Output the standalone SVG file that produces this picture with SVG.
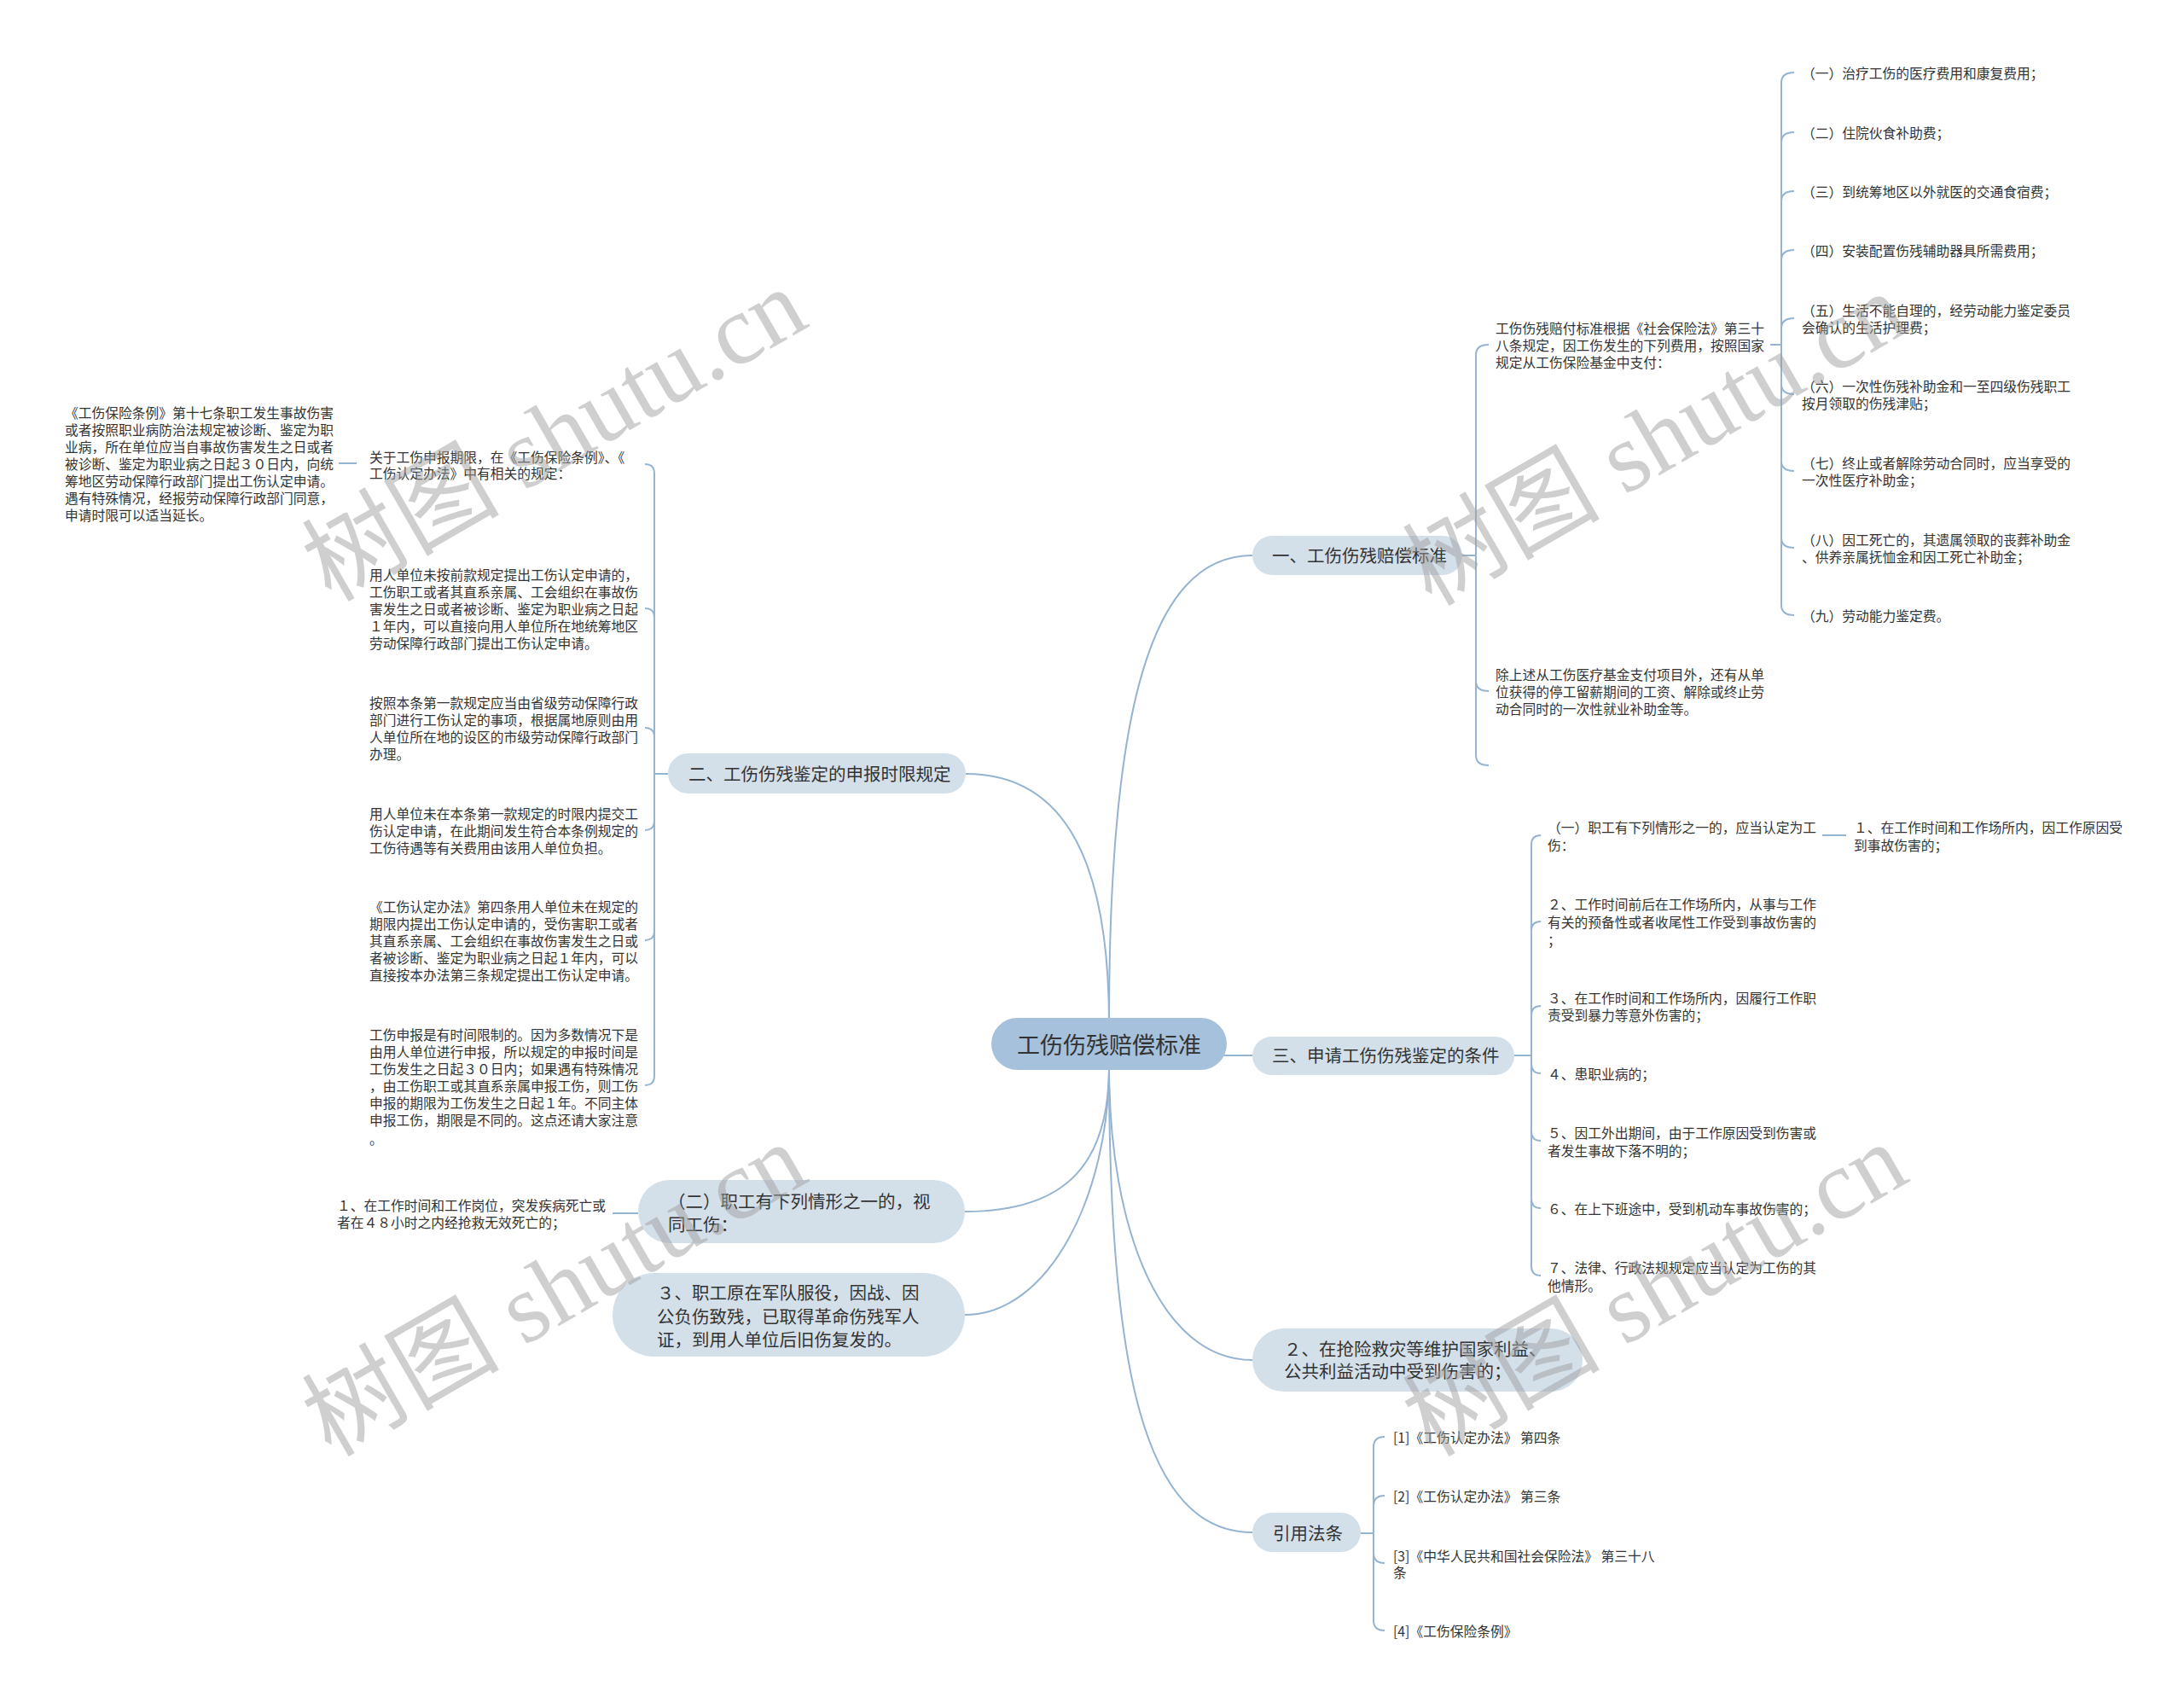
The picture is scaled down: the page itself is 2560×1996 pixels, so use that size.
<svg xmlns="http://www.w3.org/2000/svg" width="2560" height="1996" viewBox="0 0 2560 1996">
<style>
.c{fill:none;stroke:#95b4d1;stroke-width:2}
.rootbox{fill:#a6c1db}
.br{fill:#d3e0ea}
.t{font-family:"Noto Sans CJK SC","Microsoft YaHei",sans-serif;fill:#333;dominant-baseline:central}
.s{font-size:15.75px}
.m{font-size:20.5px}
.r{font-size:27px}
.wm{font-family:"Liberation Serif","Noto Sans CJK SC",serif;font-size:116px;fill:#a0a0a0;opacity:.5;text-anchor:middle;dominant-baseline:central}
</style>
<rect width="2560" height="1996" fill="#ffffff"/>
<g id="connectors">
<path class="c" d="M1300,1200 C1300,841 1346,651 1468,651"/>
<path class="c" d="M1300,1200 C1300,1018 1253,907 1132,907"/>
<path class="c" d="M1300,1237 H1468"/>
<path class="c" d="M1300,1250 C1300,1361 1253,1420 1131,1420"/>
<path class="c" d="M1300,1250 C1300,1400 1230,1541 1131,1541"/>
<path class="c" d="M1300,1250 C1300,1440 1360,1594 1468,1594"/>
<path class="c" d="M1300,1250 C1300,1600 1340,1796 1468,1796"/>
<path class="c" d="M1714,651 H1730"/>
<path class="c" d="M1730,651 V416 Q1730,404 1745,404"/>
<path class="c" d="M1730,651 V798 Q1730,810 1745,810"/>
<path class="c" d="M1730,651 V885 Q1730,897 1745,897"/>
<path class="c" d="M2075,404 H2088"/>
<path class="c" d="M2088,404 V97 Q2088,85 2103,85"/>
<path class="c" d="M2088,404 V167 Q2088,155 2103,155"/>
<path class="c" d="M2088,404 V236 Q2088,224 2103,224"/>
<path class="c" d="M2088,404 V305 Q2088,293 2103,293"/>
<path class="c" d="M2088,404 V385 Q2088,373 2103,373"/>
<path class="c" d="M2088,404 V450 Q2088,462 2103,462"/>
<path class="c" d="M2088,404 V540 Q2088,552 2103,552"/>
<path class="c" d="M2088,404 V630 Q2088,642 2103,642"/>
<path class="c" d="M2088,404 V709 Q2088,721 2103,721"/>
<path class="c" d="M1775,1237 H1795"/>
<path class="c" d="M1795,1237 V990 Q1795,979 1806,979"/>
<path class="c" d="M1795,1237 V1091 Q1795,1080 1806,1080"/>
<path class="c" d="M1795,1237 V1190 Q1795,1179 1806,1179"/>
<path class="c" d="M1795,1237 V1247 Q1795,1258 1806,1258"/>
<path class="c" d="M1795,1237 V1326 Q1795,1337 1806,1337"/>
<path class="c" d="M1795,1237 V1405 Q1795,1416 1806,1416"/>
<path class="c" d="M1795,1237 V1484 Q1795,1495 1806,1495"/>
<path class="c" d="M2136,979 H2164"/>
<path class="c" d="M1595,1797 H1610"/>
<path class="c" d="M1610,1797 V1696 Q1610,1684 1623,1684"/>
<path class="c" d="M1610,1797 V1765 Q1610,1753 1623,1753"/>
<path class="c" d="M1610,1797 V1820 Q1610,1832 1623,1832"/>
<path class="c" d="M1610,1797 V1899 Q1610,1911 1623,1911"/>
<path class="c" d="M783,907 H767"/>
<path class="c" d="M767,907 V555 Q767,544 756,544"/>
<path class="c" d="M767,907 V724 Q767,713 756,713"/>
<path class="c" d="M767,907 V864 Q767,853 756,853"/>
<path class="c" d="M767,907 V962 Q767,973 756,973"/>
<path class="c" d="M767,907 V1091 Q767,1102 756,1102"/>
<path class="c" d="M767,907 V1261 Q767,1272 756,1272"/>
<path class="c" d="M418,543 H397"/>
<path class="c" d="M748,1422 H718"/>
</g>
<g id="root">
<rect class="rootbox" x="1162" y="1193" width="276" height="61" rx="30.5"/>
<text class="t r" x="1300" y="1223" text-anchor="middle">工伤伤残赔偿标准</text>
</g>
<g id="b1">
<rect class="br" x="1468" y="628" width="246" height="46" rx="23"/>
<text class="t m" x="1491" y="650">一、工伤伤残赔偿标准</text>
</g>
<g id="b1-1">
<text class="t s"><tspan x="1753" y="384">工伤伤残赔付标准根据《社会保险法》第三十</tspan><tspan x="1753" y="404">八条规定，因工伤发生的下列费用，按照国家</tspan><tspan x="1753" y="424">规定从工伤保险基金中支付：</tspan></text>
</g>
<g id="b1-2">
<text class="t s"><tspan x="1753" y="790">除上述从工伤医疗基金支付项目外，还有从单</tspan><tspan x="1753" y="810">位获得的停工留薪期间的工资、解除或终止劳</tspan><tspan x="1753" y="830">动合同时的一次性就业补助金等。</tspan></text>
</g>
<g id="b1-1-items">
<text class="t s" x="2112" y="85">（一）治疗工伤的医疗费用和康复费用；</text>
<text class="t s" x="2112" y="155">（二）住院伙食补助费；</text>
<text class="t s" x="2112" y="224">（三）到统筹地区以外就医的交通食宿费；</text>
<text class="t s" x="2112" y="293">（四）安装配置伤残辅助器具所需费用；</text>
<text class="t s"><tspan x="2112" y="363">（五）生活不能自理的，经劳动能力鉴定委员</tspan><tspan x="2112" y="383">会确认的生活护理费；</tspan></text>
<text class="t s"><tspan x="2112" y="452">（六）一次性伤残补助金和一至四级伤残职工</tspan><tspan x="2112" y="472">按月领取的伤残津贴；</tspan></text>
<text class="t s"><tspan x="2112" y="542">（七）终止或者解除劳动合同时，应当享受的</tspan><tspan x="2112" y="562">一次性医疗补助金；</tspan></text>
<text class="t s"><tspan x="2112" y="632">（八）因工死亡的，其遗属领取的丧葬补助金</tspan><tspan x="2112" y="652">、供养亲属抚恤金和因工死亡补助金；</tspan></text>
<text class="t s" x="2112" y="721">（九）劳动能力鉴定费。</text>
</g>
<g id="b3">
<rect class="br" x="1468" y="1215" width="307" height="45" rx="22.5"/>
<text class="t m" x="1491" y="1236">三、申请工伤伤残鉴定的条件</text>
</g>
<g id="b3-items">
<text class="t s"><tspan x="1814" y="969">（一）职工有下列情形之一的，应当认定为工</tspan><tspan x="1814" y="990">伤：</tspan></text>
<text class="t s"><tspan x="2173" y="969">１、在工作时间和工作场所内，因工作原因受</tspan><tspan x="2173" y="990">到事故伤害的；</tspan></text>
<text class="t s"><tspan x="1814" y="1059">２、工作时间前后在工作场所内，从事与工作</tspan><tspan x="1814" y="1080">有关的预备性或者收尾性工作受到事故伤害的</tspan><tspan x="1814" y="1101">；</tspan></text>
<text class="t s"><tspan x="1814" y="1169">３、在工作时间和工作场所内，因履行工作职</tspan><tspan x="1814" y="1189">责受到暴力等意外伤害的；</tspan></text>
<text class="t s" x="1814" y="1258">４、患职业病的；</text>
<text class="t s"><tspan x="1814" y="1327">５、因工外出期间，由于工作原因受到伤害或</tspan><tspan x="1814" y="1348">者发生事故下落不明的；</tspan></text>
<text class="t s" x="1814" y="1416">６、在上下班途中，受到机动车事故伤害的；</text>
<text class="t s"><tspan x="1814" y="1485">７、法律、行政法规规定应当认定为工伤的其</tspan><tspan x="1814" y="1506">他情形。</tspan></text>
</g>
<g id="b4">
<rect class="br" x="1468" y="1557" width="387" height="74" rx="37"/>
<text class="t m"><tspan x="1505" y="1580">２、在抢险救灾等维护国家利益、</tspan><tspan x="1505" y="1606">公共利益活动中受到伤害的；</tspan></text>
</g>
<g id="b5">
<rect class="br" x="1468" y="1773" width="127" height="46" rx="23"/>
<text class="t m" x="1492" y="1796">引用法条</text>
</g>
<g id="b5-items">
<text class="t s" x="1633" y="1684">[1]《工伤认定办法》 第四条</text>
<text class="t s" x="1633" y="1753">[2]《工伤认定办法》 第三条</text>
<text class="t s"><tspan x="1633" y="1823">[3]《中华人民共和国社会保险法》 第三十八</tspan><tspan x="1633" y="1842">条</tspan></text>
<text class="t s" x="1633" y="1911">[4]《工伤保险条例》</text>
</g>
<g id="b2">
<rect class="br" x="783" y="883" width="349" height="47" rx="23.5"/>
<text class="t m" x="807" y="906">二、工伤伤残鉴定的申报时限规定</text>
</g>
<g id="b2-items">
<text class="t s"><tspan x="433" y="535">关于工伤申报期限，在《工伤保险条例》、《</tspan><tspan x="433" y="554">工伤认定办法》中有相关的规定：</tspan></text>
<text class="t s"><tspan x="76" y="483">《工伤保险条例》第十七条职工发生事故伤害</tspan><tspan x="76" y="503">或者按照职业病防治法规定被诊断、鉴定为职</tspan><tspan x="76" y="523">业病，所在单位应当自事故伤害发生之日或者</tspan><tspan x="76" y="543">被诊断、鉴定为职业病之日起３０日内，向统</tspan><tspan x="76" y="563">筹地区劳动保障行政部门提出工伤认定申请。</tspan><tspan x="76" y="583">遇有特殊情况，经报劳动保障行政部门同意，</tspan><tspan x="76" y="603">申请时限可以适当延长。</tspan></text>
<text class="t s"><tspan x="433" y="673">用人单位未按前款规定提出工伤认定申请的，</tspan><tspan x="433" y="693">工伤职工或者其直系亲属、工会组织在事故伤</tspan><tspan x="433" y="713">害发生之日或者被诊断、鉴定为职业病之日起</tspan><tspan x="433" y="733">１年内，可以直接向用人单位所在地统筹地区</tspan><tspan x="433" y="753">劳动保障行政部门提出工伤认定申请。</tspan></text>
<text class="t s"><tspan x="433" y="823">按照本条第一款规定应当由省级劳动保障行政</tspan><tspan x="433" y="843">部门进行工伤认定的事项，根据属地原则由用</tspan><tspan x="433" y="863">人单位所在地的设区的市级劳动保障行政部门</tspan><tspan x="433" y="883">办理。</tspan></text>
<text class="t s"><tspan x="433" y="953">用人单位未在本条第一款规定的时限内提交工</tspan><tspan x="433" y="973">伤认定申请，在此期间发生符合本条例规定的</tspan><tspan x="433" y="993">工伤待遇等有关费用由该用人单位负担。</tspan></text>
<text class="t s"><tspan x="433" y="1062">《工伤认定办法》第四条用人单位未在规定的</tspan><tspan x="433" y="1082">期限内提出工伤认定申请的，受伤害职工或者</tspan><tspan x="433" y="1102">其直系亲属、工会组织在事故伤害发生之日或</tspan><tspan x="433" y="1122">者被诊断、鉴定为职业病之日起１年内，可以</tspan><tspan x="433" y="1142">直接按本办法第三条规定提出工伤认定申请。</tspan></text>
<text class="t s"><tspan x="433" y="1212">工伤申报是有时间限制的。因为多数情况下是</tspan><tspan x="433" y="1232">由用人单位进行申报，所以规定的申报时间是</tspan><tspan x="433" y="1252">工伤发生之日起３０日内；如果遇有特殊情况</tspan><tspan x="433" y="1272">，由工伤职工或其直系亲属申报工伤，则工伤</tspan><tspan x="433" y="1292">申报的期限为工伤发生之日起１年。不同主体</tspan><tspan x="433" y="1312">申报工伤，期限是不同的。这点还请大家注意</tspan><tspan x="433" y="1334">。</tspan></text>
</g>
<g id="b6">
<rect class="br" x="748" y="1383" width="383" height="74" rx="37"/>
<text class="t m"><tspan x="783" y="1407">（二）职工有下列情形之一的，视</tspan><tspan x="783" y="1434">同工伤：</tspan></text>
</g>
<g id="b6-1">
<text class="t s"><tspan x="395" y="1412">１、在工作时间和工作岗位，突发疾病死亡或</tspan><tspan x="395" y="1432">者在４８小时之内经抢救无效死亡的；</tspan></text>
</g>
<g id="b7">
<rect class="br" x="718" y="1492" width="413" height="98" rx="49"/>
<text class="t m"><tspan x="770" y="1514">３、职工原在军队服役，因战、因</tspan><tspan x="770" y="1542">公负伤致残，已取得革命伤残军人</tspan><tspan x="770" y="1569">证，到用人单位后旧伤复发的。</tspan></text>
</g>
<g id="watermarks">
<text class="wm" x="650" y="510" transform="rotate(-30 650 510)">树图 shutu.cn</text>
<text class="wm" x="1940" y="515" transform="rotate(-30 1940 515)">树图 shutu.cn</text>
<text class="wm" x="650" y="1512" transform="rotate(-30 650 1512)">树图 shutu.cn</text>
<text class="wm" x="1940" y="1512" transform="rotate(-30 1940 1512)">树图 shutu.cn</text>
</g>
</svg>
